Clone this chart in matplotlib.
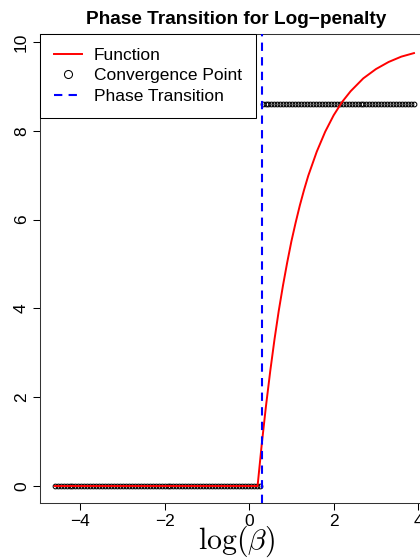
import matplotlib
matplotlib.use('Agg')
import matplotlib.pyplot as plt
import numpy as np

# values
log_beta_fun = [-4.6, 0.2, 0.3, 0.4, 0.5, 0.6, 0.7, 0.8, 0.9, 1.0, 1.1, 1.2, 1.3,
                1.4, 1.6, 1.8, 2.0, 2.2, 2.4, 2.7, 3.0, 3.3, 3.6, 3.9]
fun_values = [0.0, 0.0, 0.95, 1.81, 2.59, 3.30, 3.94, 4.51, 5.03, 5.51, 5.93,
              6.32, 6.67, 6.99, 7.53, 7.98, 8.35, 8.65, 8.89, 9.18, 9.39,
              9.55, 9.67, 9.75]

# convergence points: evenly spaced grid in log(beta)
log_beta_pts = np.linspace(-4.6, 3.9, 122)
conv_low = 0.0
conv_high = 8.6
phase_transition = 0.31
conv_values = np.where(log_beta_pts <= phase_transition, conv_low, conv_high)

x_ticks = [-4, -2, 0, 2, 4]
y_ticks = [0, 2, 4, 6, 8, 10]

plt.rcParams['font.family'] = ['Liberation Sans', 'DejaVu Sans']
plt.rcParams['mathtext.fontset'] = 'cm'

fig = plt.figure(figsize=(4.2, 5.59), dpi=100)
ax = fig.add_axes([40 / 420, 56 / 559, 393 / 420, 469 / 559])

ax.plot(log_beta_pts, conv_values, 'o', markerfacecolor='none',
        markeredgecolor='black', markersize=3.4, markeredgewidth=0.75,
        label='Convergence Point', zorder=2)
ax.plot(log_beta_fun, fun_values, color='red', lw=1.4, label='Function', zorder=3)
ax.axvline(phase_transition, color='blue', lw=1.5, dashes=(4, 3),
           label='Phase Transition', zorder=4)

ax.set_xlim(-4.947, 4.35)
ax.set_ylim(-0.383, 10.18)
ax.set_xticks(x_ticks)
ax.set_yticks(y_ticks)
ax.tick_params(axis='both', labelsize=12.5, length=5, width=0.75, color='black')
ax.tick_params(axis='x', pad=3)
ax.tick_params(axis='y', pad=3)
for lab in ax.get_yticklabels():
    lab.set_rotation(90)
    lab.set_va('center')
for sp in ax.spines.values():
    sp.set_linewidth(0.75)
    sp.set_color('#333333')

ax.set_title('Phase Transition for Log\u2212penalty', fontsize=13.7,
             fontweight='bold', pad=7)
fig.text(237 / 420, 1 - 549 / 559, r'$\log(\beta)$', fontsize=21.5,
         ha='center', va='baseline')

h, l = ax.get_legend_handles_labels()
order = [1, 0, 2]
leg = ax.legend([h[i] for i in order], [l[i] for i in order],
                loc='upper left', bbox_to_anchor=(0, 1), borderaxespad=0,
                fontsize=12.5, fancybox=False, edgecolor='black', framealpha=1,
                handlelength=1.6, handletextpad=0.7, labelspacing=0.3,
                borderpad=0.8, markerscale=1.7)
leg.get_frame().set_linewidth(0.75)

fig.savefig('out.png', dpi=100)
